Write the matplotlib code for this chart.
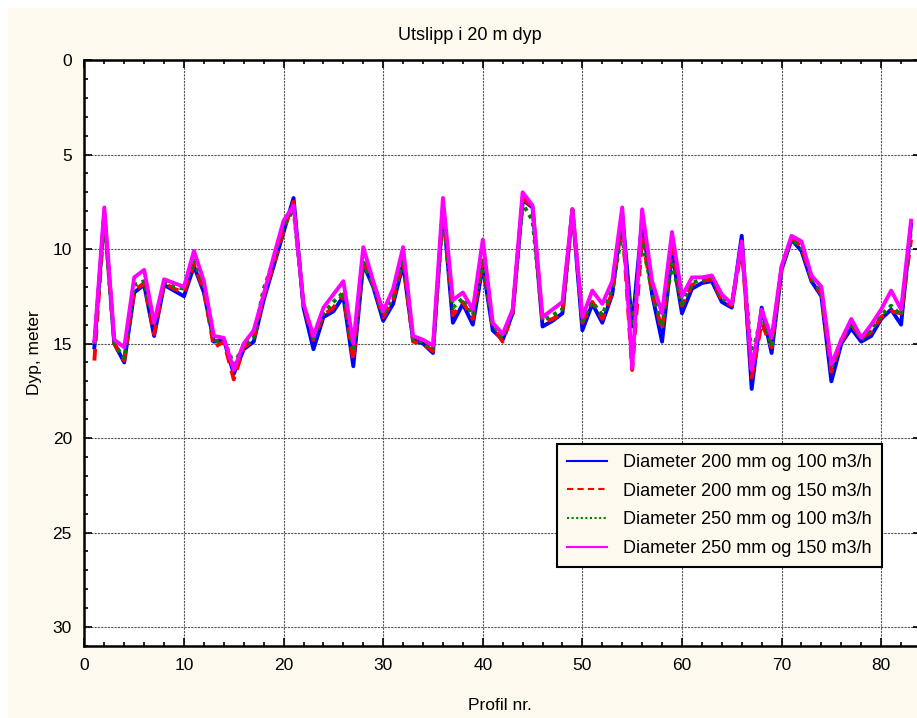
import matplotlib
matplotlib.use("Agg")
import matplotlib.pyplot as plt
from matplotlib.ticker import MultipleLocator
from matplotlib.patches import Rectangle
import numpy as np

plt.rcParams['font.family'] = ['Liberation Sans', 'DejaVu Sans']

profil = list(range(1, 84))

d200_q100 = [15.2, 8.1, 15.0, 16.0, 12.3, 11.9, 14.6, 11.9, 12.2, 12.5,
             10.9, 12.3, 14.9, 14.8, 16.6, 15.3, 14.9, 12.7, 10.9, 9.1,
             7.3, 13.1, 15.3, 13.6, 13.3, 12.5, 16.2, 10.8, 12.0, 13.8,
             12.9, 10.8, 14.8, 15.0, 15.5, 7.8, 13.9, 12.9, 14.0, 10.9,
             14.3, 14.8, 13.4, 7.4, 7.8, 14.1, 13.8, 13.4, 7.9, 14.3,
             12.9, 13.9, 12.4, 8.1, 14.1, 8.5, 12.4, 14.9, 10.2, 13.4,
             12.1, 11.8, 11.7, 12.8, 13.1, 9.3, 17.4, 13.1, 15.5, 11.1,
             9.5, 10.1, 11.7, 12.5, 17.0, 15.0, 14.2, 14.9, 14.6, 13.7,
             13.2, 14.0, 8.7]

d200_q150 = [15.9, 8.2, 15.0, 15.9, 12.2, 11.8, 14.5, 11.8, 12.1, 12.3,
             10.8, 12.2, 15.2, 14.9, 16.9, 15.2, 14.8, 12.5, 10.8, 9.0,
             7.5, 13.0, 14.8, 13.5, 13.1, 12.4, 15.9, 10.6, 11.9, 13.6,
             12.7, 10.6, 14.9, 15.0, 15.4, 7.9, 13.5, 12.8, 13.7, 10.6,
             14.1, 14.9, 13.4, 7.3, 7.8, 13.9, 13.7, 13.4, 7.9, 13.9,
             12.8, 13.7, 12.3, 8.5, 16.4, 9.4, 12.3, 14.3, 9.9, 13.0,
             11.9, 11.7, 11.6, 12.7, 13.0, 9.9, 16.8, 13.9, 15.2, 11.0,
             9.4, 9.9, 11.6, 12.4, 16.5, 14.9, 14.0, 14.7, 14.4, 13.6,
             13.3, 13.4, 9.5]

d250_q100 = [15.0, 8.4, 15.0, 15.8, 11.9, 11.7, 13.9, 11.8, 12.0, 12.1,
             10.6, 12.0, 14.9, 14.8, 16.1, 15.1, 14.7, 12.1, 10.6, 8.8,
             7.9, 12.9, 14.7, 13.4, 12.8, 12.3, 15.4, 10.7, 11.9, 13.5,
             12.5, 10.5, 14.8, 14.9, 15.3, 8.1, 13.1, 12.6, 13.5, 10.7,
             14.0, 14.7, 13.3, 7.6, 8.5, 13.8, 13.5, 13.2, 7.9, 13.8,
             12.8, 13.5, 12.1, 9.1, 14.1, 9.6, 12.2, 14.1, 10.8, 12.9,
             11.8, 11.6, 11.5, 12.6, 12.9, 9.8, 15.7, 13.5, 15.1, 11.0,
             9.5, 9.9, 11.5, 12.3, 16.3, 14.8, 13.9, 14.8, 14.3, 13.5,
             13.0, 13.5, 9.0]

d250_q150 = [14.9, 7.8, 14.8, 15.2, 11.5, 11.1, 13.9, 11.6, 11.8, 12.0,
             10.1, 11.7, 14.6, 14.7, 16.4, 15.0, 14.3, 12.4, 10.4, 8.5,
             7.7, 12.9, 14.6, 13.1, 12.4, 11.7, 15.0, 9.9, 11.7, 13.3,
             12.1, 9.9, 14.6, 14.8, 15.1, 7.3, 12.7, 12.3, 13.2, 9.5,
             13.9, 14.5, 13.2, 7.0, 7.7, 13.6, 13.2, 12.8, 7.9, 13.6,
             12.2, 12.9, 11.7, 7.8, 16.3, 7.9, 11.7, 13.4, 9.1, 12.5,
             11.5, 11.5, 11.4, 12.4, 12.9, 9.6, 16.4, 13.2, 14.7, 10.9,
             9.3, 9.6, 11.4, 12.0, 16.1, 14.8, 13.7, 14.7, 14.0, 13.2,
             12.2, 13.2, 8.5]

labels = ["Diameter 200 mm og 100 m3/h",
          "Diameter 200 mm og 150 m3/h",
          "Diameter 250 mm og 100 m3/h",
          "Diameter 250 mm og 150 m3/h"]

W, H = 917, 718
fig = plt.figure(figsize=(W / 100, H / 100), dpi=100, facecolor='white')
cream = '#FDF9EE'
fig.patches.append(Rectangle((8 / W, 0), 1, 1 - 8 / H, transform=fig.transFigure,
                             facecolor=cream, edgecolor='none', zorder=-10))

AXL, AXR, AXT, AXB = 84.4, 921, 60, 646
ax = fig.add_axes([AXL / W, (H - AXB) / H, (AXR - AXL) / W, (AXB - AXT) / H])
ax.set_facecolor('white')

ax.plot(profil, d200_q100, color='#0000FF', lw=2.8, ls='-', label=labels[0], zorder=3)
ax.plot(profil, d200_q150, color='#FF0000', lw=2.8, ls=(0, (3, 2)), label=labels[1], zorder=4)
ax.plot(profil, d250_q100, color='#008000', lw=2.8, ls=(0, (1, 1.2)), label=labels[2], zorder=5)
ax.plot(profil, d250_q150, color='#FF00FF', lw=2.8, ls='-', label=labels[3], zorder=6)

ax.set_xlim(0, 84)
ax.set_ylim(31, 0)
ax.xaxis.set_major_locator(MultipleLocator(10))
ax.xaxis.set_minor_locator(MultipleLocator(2))
ax.yaxis.set_major_locator(MultipleLocator(5))
ax.yaxis.set_minor_locator(MultipleLocator(1))
ax.tick_params(which='both', direction='in', top=True, right=True, width=1.2,
               labelsize=12.5, pad=9)
ax.tick_params(which='major', length=6)
ax.tick_params(which='minor', length=3)
for s in ax.spines.values():
    s.set_linewidth(1.8)
ax.grid(True, which='major', color='#555555', lw=0.8, ls=(0, (2, 1)), zorder=1)

ax.set_xlabel("Profil nr.", fontsize=12.5)
ax.set_ylabel("Dyp, meter", fontsize=12.5)
ax.xaxis.set_label_coords((500 - AXL) / (AXR - AXL), -(698 - AXB) / (AXB - AXT))
ax.yaxis.set_label_coords(-(AXL - 42) / (AXR - AXL), 0.5)

fig.text(470 / W, 1 - 35 / H, "Utslipp i 20 m dyp", ha='center', va='center', fontsize=13)

leg = ax.legend(loc='lower right',
                bbox_to_anchor=((882 - AXL) / (AXR - AXL), (AXB - 567) / (AXB - AXT)),
                borderaxespad=0, fontsize=13, frameon=True, fancybox=False, framealpha=1,
                facecolor=cream, edgecolor='black', handlelength=2.2, borderpad=0.55,
                labelspacing=0.65, handletextpad=0.9)
leg.get_frame().set_linewidth(1.5)
for h in leg.get_lines():
    h.set_linewidth(1.5)

fig.savefig("out.png", dpi=100, facecolor=fig.get_facecolor())
